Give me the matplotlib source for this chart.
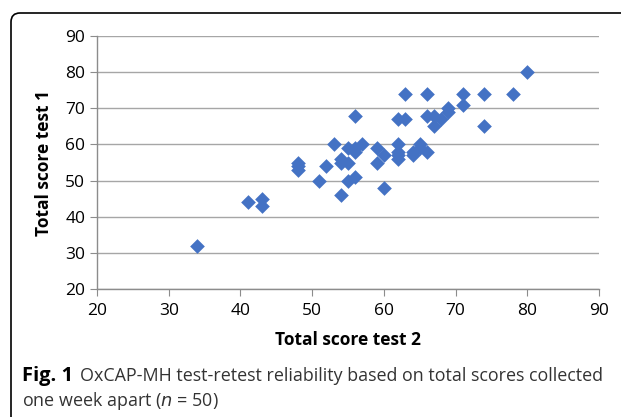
import numpy as np
import matplotlib
matplotlib.use('Agg')
import matplotlib.pyplot as plt
from matplotlib.patches import FancyBboxPatch
from matplotlib.transforms import IdentityTransform

# Test 2 (x) and test 1 (y) total scores
test2 = [34, 41, 43, 43, 48, 48, 48, 51, 52, 53,
         54, 54, 54, 55, 55, 55, 56, 56, 56, 56,
         57, 59, 59, 60, 60, 62, 62, 62, 62, 62,
         63, 63, 64, 64, 65, 65, 66, 66, 66, 67,
         67, 68, 69, 69, 71, 71, 74, 74, 78, 80]
test1 = [32, 44, 45, 43, 55, 54, 53, 50, 54, 60,
         56, 55, 46, 59, 55, 50, 68, 59, 58, 51,
         60, 59, 55, 57, 48, 67, 60, 58, 57, 56,
         74, 67, 58, 57, 60, 59, 74, 68, 58, 68,
         65, 67, 70, 69, 74, 71, 74, 65, 74, 80]
ticks = np.arange(20, 100, 10)

plt.rcParams['font.family'] = ['Open Sans', 'DejaVu Sans']

fig = plt.figure(figsize=(6.21, 4.17), dpi=100)
ax = fig.add_axes([97/621, 1-289/417, 502/621, 253/417])

ax.scatter(test2, test1, marker='D', s=56, color='#4472C4', linewidths=0, zorder=3)

ax.set_xlim(20, 90)
ax.set_ylim(20, 90)
ax.set_xticks(ticks)
ax.set_yticks(ticks)
ax.grid(axis='y', color='#a6a6a6', linewidth=1)
ax.set_axisbelow(True)
for s in ['top', 'right']:
    ax.spines[s].set_visible(False)
for s in ['left', 'bottom']:
    ax.spines[s].set_color('#8c8c8c')
    ax.spines[s].set_linewidth(1)
ax.tick_params(colors='#8c8c8c', labelcolor='black', length=5, labelsize=12.5)
ax.tick_params(axis='x', pad=5)

ax.set_xlabel('Total score test 2', fontsize=12.5, fontweight='bold', labelpad=9)
ax.set_ylabel('Total score test 1', fontsize=12.5, fontweight='bold', labelpad=9)

# caption
fig.text(22/621, 1-376/417, 'Fig. 1', fontsize=14.5, fontweight='bold', va='center')
fig.text(80/621, 1-376/417, 'OxCAP-MH test-retest reliability based on total scores collected',
         fontsize=12.9, color='#333333', va='center')
fig.text(22/621, 1-401/417, 'one week apart ($n$ = 50)', fontsize=12.9, color='#333333', va='center')

# frame around the figure (open at right and bottom)
box = FancyBboxPatch((11, -40), 700, 417-13+40, boxstyle='round,pad=0,rounding_size=9',
                     transform=IdentityTransform(), fill=False, edgecolor='black',
                     linewidth=1.2, clip_on=False)
fig.patches.append(box)

fig.savefig('out.png', dpi=100)
